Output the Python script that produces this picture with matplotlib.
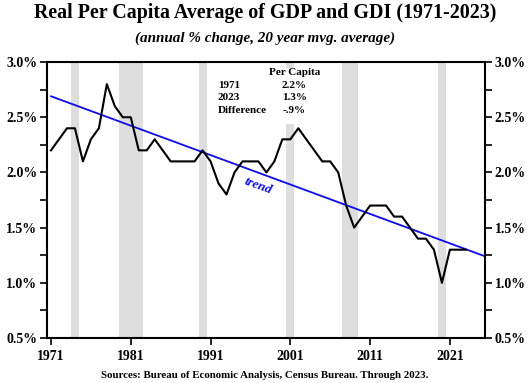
import numpy as np
import matplotlib.pyplot as plt
from matplotlib.ticker import MultipleLocator, FuncFormatter

# 20 year moving average of real per capita GDP/GDI growth (%)
years = list(range(1971, 2024))
values = [2.2, 2.3, 2.4, 2.4, 2.1, 2.3, 2.4, 2.8, 2.6, 2.5,
          2.5, 2.2, 2.2, 2.3, 2.2, 2.1, 2.1, 2.1, 2.1, 2.2,
          2.1, 1.9, 1.8, 2.0, 2.1, 2.1, 2.1, 2.0, 2.1, 2.3,
          2.3, 2.4, 2.3, 2.2, 2.1, 2.1, 2.0, 1.7, 1.5, 1.6,
          1.7, 1.7, 1.7, 1.6, 1.6, 1.5, 1.4, 1.4, 1.3, 1.0,
          1.3, 1.3, 1.3]

# trend line end points
trend_x = [1971, 2025.4]
trend_y = [2.69, 1.24]

# recession shading (start, end)
recessions = [(1973.5, 1974.5), (1979.5, 1982.5), (1989.5, 1990.5),
              (2000.5, 2001.5), (2007.5, 2009.5), (2019.5, 2020.5)]

xticks = [1971, 1981, 1991, 2001, 2011, 2021]

plt.rcParams['font.family'] = ['Liberation Serif', 'DejaVu Serif']
plt.rcParams['font.weight'] = 'bold'

fig = plt.figure(figsize=(5.3, 3.83), dpi=100)
ax = fig.add_axes([0.0887, 0.1175, 0.8264, 0.7205])

for s, e in recessions:
    ax.axvspan(s, e, color='#dedede', lw=0, zorder=0)

ax.plot(trend_x, trend_y, color='#0a0aff', lw=1.3, zorder=2)
ax.plot(years, values, color='black', lw=1.5, zorder=3)

ax.set_xlim(1970.5, 2025.4)
ax.set_ylim(0.5, 3.0)
ax.set_xticks(xticks)
ax.yaxis.set_major_locator(MultipleLocator(0.5))
ax.yaxis.set_minor_locator(MultipleLocator(0.25))
ax.yaxis.set_major_formatter(FuncFormatter(lambda v, p: f'{v:.1f}%'))
ax.tick_params(axis='both', which='both', direction='out', labelsize=10,
               right=True, labelright=True, width=1.2)
ax.tick_params(axis='y', which='both', length=5, pad=2)
ax.tick_params(axis='x', length=5, pad=4)
for lab in ax.get_xticklabels() + ax.get_yticklabels():
    lab.set_fontweight('bold')
for sp in ax.spines.values():
    sp.set_linewidth(1.5)

# annotation block
ax.axvspan(1997.5, 2002.5, ymin=0.775, ymax=0.98, color='white', lw=0, zorder=1)
ax.text(0.565, 0.963, 'Per Capita', transform=ax.transAxes, ha='center',
        va='center', fontsize=8, fontweight='bold', zorder=4)
rows = [('1971', '2.2%'), ('2023', '1.3%'), ('Difference', '-.9%')]
for i, (lab, val) in enumerate(rows):
    yy = 0.915 - i * 0.045
    ax.text(0.390, yy, lab, transform=ax.transAxes, ha='left', va='center',
            fontsize=8, fontweight='bold', zorder=4)
    ax.text(0.565, yy, val, transform=ax.transAxes, ha='center', va='center',
            fontsize=8, fontweight='bold', zorder=4)

ax.text(1997.0, 1.88, 'trend', color='#0a0aff', fontsize=9.5, fontweight='bold',
        style='italic', rotation=-20, ha='center', va='center', zorder=4)

fig.text(0.5, 0.965, 'Real Per Capita Average of GDP and GDI (1971-2023)',
         ha='center', va='center', fontsize=14.4, fontweight='bold')
fig.text(0.5, 0.9, '(annual % change, 20 year mvg. average)',
         ha='center', va='center', fontsize=10.9, fontweight='bold', style='italic')
fig.text(0.5, 0.02, 'Sources: Bureau of Economic Analysis, Census Bureau. Through 2023.',
         ha='center', va='center', fontsize=7.8, fontweight='bold')

fig.savefig('out.png', dpi=100)
